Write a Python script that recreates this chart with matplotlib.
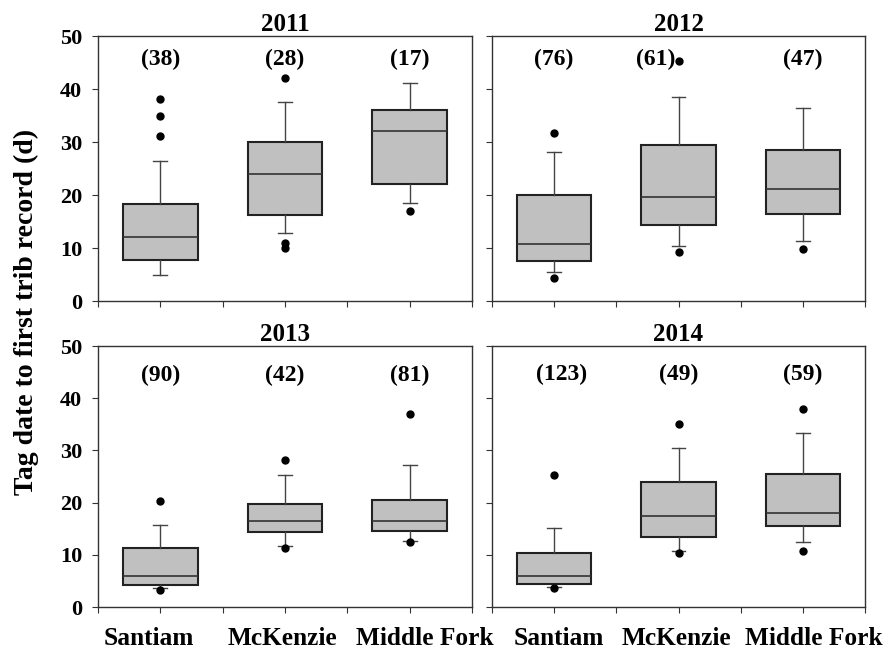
import matplotlib
matplotlib.use("Agg")
import matplotlib.pyplot as plt

plt.rcParams['font.family'] = ['Liberation Serif', 'DejaVu Serif']
plt.rcParams['font.weight'] = 'bold'

years = ["2011", "2012", "2013", "2014"]
rivers = ["Santiam", "McKenzie", "Middle Fork"]
counts = [[38, 28, 17], [76, 61, 47], [90, 42, 81], [123, 49, 59]]

# box stats, one row per year (Santiam, McKenzie, Middle Fork)
whislo = [[5.0, 12.8, 18.5], [5.5, 10.4, 11.3], [3.7, 11.7, 12.7], [3.9, 10.7, 12.5]]
q1 = [[7.7, 16.2, 22.0], [7.6, 14.3, 16.5], [4.2, 14.4, 14.6], [4.5, 13.5, 15.5]]
med = [[12.0, 24.0, 32.0], [10.7, 19.7, 21.1], [5.9, 16.4, 16.5], [6.0, 17.5, 18.1]]
q3 = [[18.3, 30.0, 36.0], [20.1, 29.4, 28.5], [11.4, 19.8, 20.5], [10.4, 24.0, 25.4]]
whishi = [[26.5, 37.5, 41.1], [28.1, 38.5, 36.5], [15.8, 25.2, 27.2], [15.1, 30.5, 33.4]]
fliers = [
    [[31.1, 35.0, 38.1], [11.0, 10.0, 42.0], [17.0]],
    [[4.4, 31.8], [9.3, 45.3], [9.8]],
    [[3.3, 20.4], [11.4, 28.1], [12.4, 37.0]],
    [[3.7, 25.2], [10.4, 35.1], [10.7, 37.9]],
]

fig = plt.figure(figsize=(8.87, 6.52), dpi=100)
rects = [
    [0.1105, 0.5383, 0.4217, 0.4064],
    [0.5547, 0.5383, 0.4205, 0.4064],
    [0.1105, 0.0690, 0.4217, 0.4003],
    [0.5547, 0.0690, 0.4205, 0.4003],
]
label_y = [45.6, 45.6, 44.4, 44.6]
label_dx = {(1, 1): -0.18, (3, 0): 0.06}
# the river names are nudged sideways so they don't run into each other
name_dx = {2: [-0.09, -0.02, 0.12], 3: [0.04, -0.02, 0.09]}

edge = '#222222'
for i, yr in enumerate(years):
    ax = fig.add_axes(rects[i])
    stats = []
    for j in range(3):
        stats.append(dict(whislo=whislo[i][j], q1=q1[i][j], med=med[i][j],
                          q3=q3[i][j], whishi=whishi[i][j], fliers=fliers[i][j]))
    ax.bxp(stats, positions=[0.5, 1.5, 2.5], widths=0.6, capwidths=0.11,
           patch_artist=True, manage_ticks=False,
           boxprops=dict(facecolor='#c0c0c0', edgecolor=edge, linewidth=1.5),
           medianprops=dict(color='#333333', linewidth=1.2),
           whiskerprops=dict(color='#444444', linewidth=1.0),
           capprops=dict(color='#444444', linewidth=1.0),
           flierprops=dict(marker='o', markerfacecolor='black',
                           markeredgecolor='black', markersize=5))
    for j in range(3):
        ax.text(0.5 + j + label_dx.get((i, j), 0), label_y[i], f"({counts[i][j]})",
                ha='center', va='center', fontsize=17, fontweight='bold')
    ax.set_xlim(0, 3)
    ax.set_ylim(0, 50)
    ax.set_xticks([0, 0.5, 1, 1.5, 2, 2.5, 3])
    ax.set_yticks([0, 10, 20, 30, 40, 50])
    ax.tick_params(direction='out', length=4.5, width=0.8, color='#333333')
    ax.tick_params(axis='y', pad=7)
    ax.set_xticklabels([])
    if i % 2 == 0:
        ax.set_yticklabels(['0', '10', '20', '30', '40', '50'], fontsize=16, fontweight='bold')
    else:
        ax.set_yticklabels([])
    if i >= 2:
        for j, r in enumerate(rivers):
            ax.text(0.5 + j + name_dx[i][j], -3.9, r, ha='center', va='top', fontsize=18.3,
                    fontweight='bold', transform=ax.transData, clip_on=False)
    for s in ax.spines.values():
        s.set_color('#333333')
        s.set_linewidth(1.0)
    ax.set_title(yr, fontsize=18, fontweight='bold', pad=3)

fig.text(0.030, 0.521, 'Tag date to first trib record (d)', rotation=90,
         ha='center', va='center', fontsize=20, fontweight='bold')

fig.savefig('out.png', dpi=100)
